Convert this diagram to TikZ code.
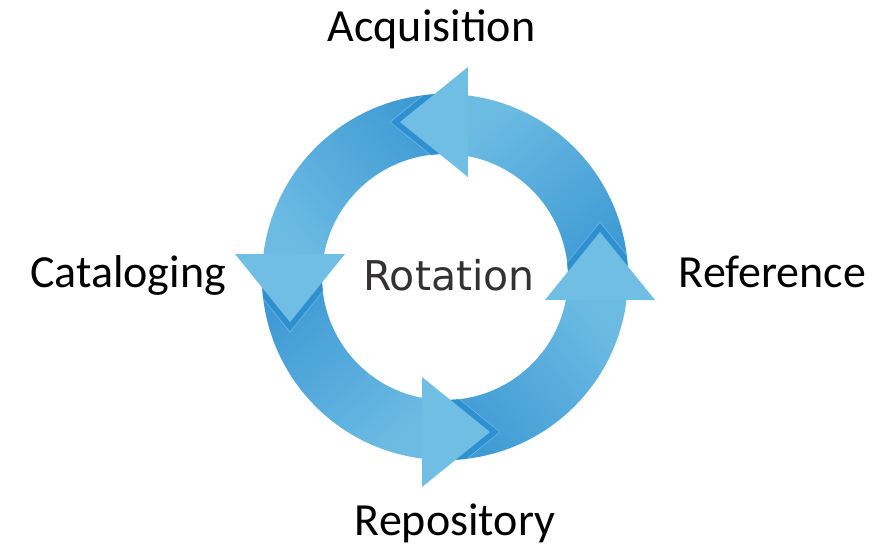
\documentclass[tikz,border=0pt]{standalone}
\usepackage{fontspec}
\setmainfont{Carlito}
\newfontfamily\rotfont{DejaVu Sans}
\usepackage{tikz}
\usetikzlibrary{calc}
\usetikzlibrary{positioning}
\definecolor{headblue}{HTML}{70BEE4}
\definecolor{bodylight}{HTML}{6CBBE3}
\definecolor{bodydark}{HTML}{3C98D3}
\definecolor{notchblue}{HTML}{2F90D1}
\definecolor{rotgray}{HTML}{333131}
\tikzset{stage/.style={font=\fontsize{46}{55}\selectfont, inner sep=0pt, anchor=base}}
\tikzset{centre/.style={font=\rotfont\fontsize{41}{49}\selectfont, text=rotgray, inner sep=0pt, anchor=base}}
\tikzset{ringbody/.style={top color=bodylight, bottom color=bodydark}}
\tikzset{arrowhead/.style={fill=headblue}}

\begin{document}
\begin{tikzpicture}[x=1pt, y=1pt]
    \useasboundingbox (-445,-273) rectangle (437,277);
    % bodies of the four arrows, each a quarter of the ring
    \foreach \a in {0,90,180,270}{
        \shade[ringbody, shading angle=40+\a]
            (\a+85:183) arc[start angle=\a+85, end angle=\a-5, radius=183]
            -- (\a-5:123) arc[start angle=\a-5, end angle=\a+85, radius=123] -- cycle;
    }
    % darker notch in front of each head
    \begin{scope}[even odd rule]
        \clip (0,0) circle (183) (0,0) circle (123);
        \foreach \a in {0,90,180,270}{
            \fill[notchblue] (\a+82.59:100.84) -- (\a+109.54:164.47) -- (\a+86.46:210.4) -- cycle;
            \draw[bodylight, line width=0.6pt] (\a+82.59:100.84) -- (\a+109.54:164.47) -- (\a+86.46:210.4);
        }
    \end{scope}
    % heads
    \foreach \a in {0,90,180,270}{
        \fill[arrowhead] (\a+77.05:102.6) -- (\a+106.19:161.4) -- (\a+83.75:211.26) -- cycle;
    }
    \node[centre] (rot) at (4,-13) {Rotation};
    \node[stage] (acq) at (-13.5,236) {Acquisition};
    \node[stage] (cat) at (-317,-10) {Cataloging};
    \node[stage] (ref) at (327.5,-10) {Reference};
    \node[stage] (rep) at (10,-258) {Repository};
\end{tikzpicture}
\end{document}
